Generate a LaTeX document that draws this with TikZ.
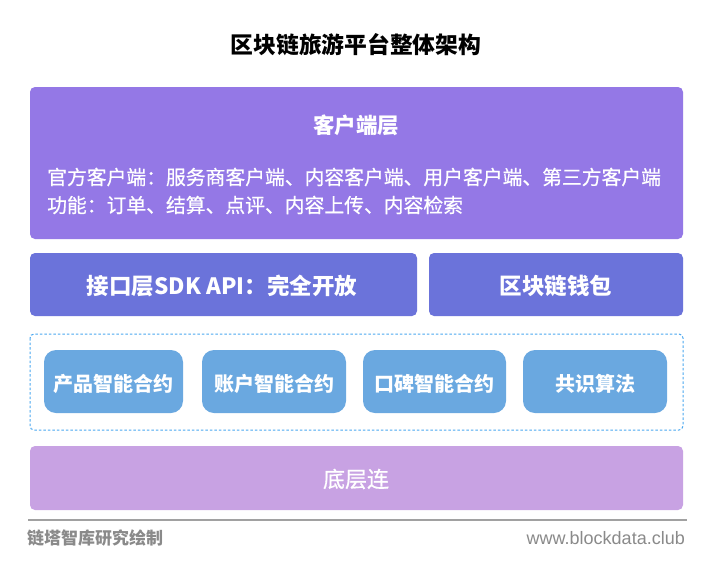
\documentclass[tikz,border=0pt]{standalone}
\usepackage{fontspec}
\setmainfont{Noto Sans CJK SC}
\newfontfamily\footfont{Liberation Sans}
\newfontfamily\medfont[FakeBold=0.6]{Noto Sans CJK SC}
\definecolor{clientc}{HTML}{9478E6}
\definecolor{apic}{HTML}{6B73DA}
\definecolor{smallc}{HTML}{6AA8E0}
\definecolor{basec}{HTML}{C8A2E3}
\definecolor{dashc}{HTML}{4AA8F0}
\definecolor{footc}{HTML}{8A8A8A}
\tikzset{
  layer/.style={rounded corners=5pt, inner sep=0pt},
  smallbox/.style={rounded corners=12pt, fill=smallc, inner sep=0pt},
  wtxt/.style={text=white, inner sep=0pt},
}
\begin{document}
\begin{tikzpicture}[x=1pt,y=-1pt]
\useasboundingbox (0,0) rectangle (716,563);
\fill[white] (0,0) rectangle (716,563);
% title
\node[inner sep=0pt, font=\fontsize{22.8}{26}\selectfont\bfseries] (title) at (356,45) {区块链旅游平台整体架构};
% client layer
\fill[layer, clientc] (30,87) rectangle (683,239);
\node[wtxt, font=\fontsize{21.5}{25}\selectfont\bfseries] (client) at (356,125) {客户端层};
\node[wtxt, anchor=west, font=\medfont\fontsize{19.8}{24}\selectfont] (l1) at (47,177) {官方客户端：服务商客户端、内容客户端、用户客户端、第三方客户端};
\node[wtxt, anchor=west, font=\medfont\fontsize{19.8}{24}\selectfont] (l2) at (47,205) {功能：订单、结算、点评、内容上传、内容检索};
% api and wallet
\fill[layer, apic] (30,253) rectangle (417,316);
\node[wtxt, font=\fontsize{22.5}{26}\selectfont\bfseries] (api) at (222,286) {接口层SDK API：完全开放};
\fill[layer, apic] (429,253) rectangle (683,316);
\node[wtxt, font=\fontsize{22.5}{26}\selectfont\bfseries] (wallet) at (556,286) {区块链钱包};
% dashed container
\draw[dashc, line width=1pt, dash pattern=on 2.5pt off 2pt, rounded corners=4pt] (30,334) rectangle (683,430);
\fill[smallbox] (44,350) rectangle (183,413);
\node[wtxt, font=\fontsize{20}{24}\selectfont\bfseries] (p1) at (113.5,384) {产品智能合约};
\fill[smallbox] (202,350) rectangle (346,413);
\node[wtxt, font=\fontsize{20}{24}\selectfont\bfseries] (p2) at (274,384) {账户智能合约};
\fill[smallbox] (363,350) rectangle (506,413);
\node[wtxt, font=\fontsize{20}{24}\selectfont\bfseries] (p3) at (434.5,384) {口碑智能合约};
\fill[smallbox] (523,350) rectangle (667,413);
\node[wtxt, font=\fontsize{20}{24}\selectfont\bfseries] (p4) at (595,384) {共识算法};
% base layer
\fill[layer, basec] (30,446) rectangle (683,510);
\node[wtxt, font=\medfont\fontsize{22}{26}\selectfont] (base) at (356,479) {底层连};
% footer
\coordinate (fl) at (28,520);
\coordinate (fr) at (687,520);
\draw[footc!80, line width=1.2pt] (fl) -- (fr);
\node[anchor=west, inner sep=0pt, text=footc, font=\fontsize{17}{20}\selectfont\bfseries] (src) at (27,538) {链塔智库研究绘制};
\node[anchor=east, inner sep=0pt, text=footc, font=\footfont\fontsize{18}{21}\selectfont] (url) at (685,538) {www.blockdata.club};
\end{tikzpicture}
\end{document}
